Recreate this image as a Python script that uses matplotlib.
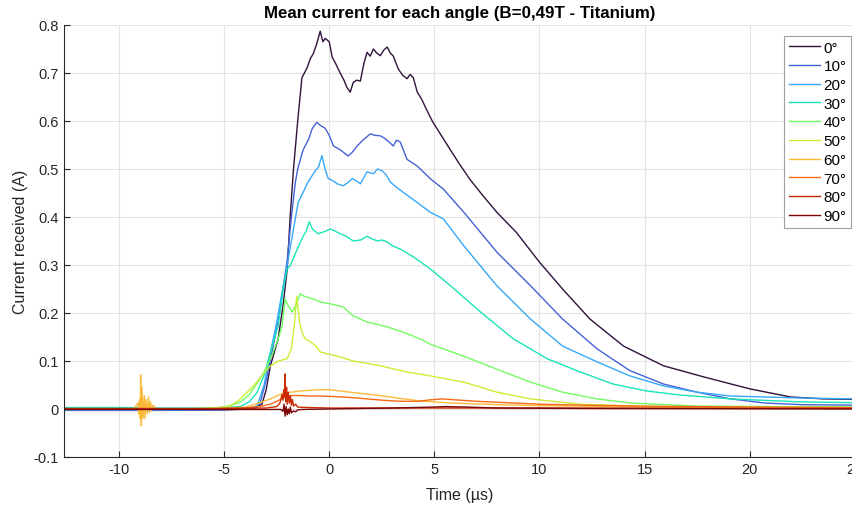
import matplotlib
matplotlib.use("Agg")
import matplotlib.pyplot as plt
import numpy as np

plt.rcParams['font.family'] = ['Liberation Sans', 'DejaVu Sans']

angles = ["0°", "10°", "20°", "30°", "40°", "50°", "60°", "70°", "80°", "90°"]

t0 = [-12.6, -10, -8, -6, -4.5, -3.6, -3.2, -3.0, -2.8, -2.43, -2.2, -2.0, -1.86, -1.7, -1.5, -1.3, -1.06,
      -0.9, -0.76, -0.6, -0.43, -0.3, -0.19, 0.0, 0.14, 0.3, 0.52, 0.7, 0.84, 1.0, 1.14, 1.3, 1.48, 1.65,
      1.8, 1.95, 2.1, 2.25, 2.43, 2.6, 2.76, 2.9, 3.05, 3.29, 3.5, 3.7, 3.85, 4.0, 4.19, 4.4, 4.67, 4.9,
      5.14, 5.4, 5.76, 6.2, 6.7, 7.3, 7.97, 8.9, 10.0, 11.1, 12.4, 14.0, 15.9, 17.8, 20.0, 21.95, 23.5, 25]
v0 = [-0.002, -0.002, -0.002, -0.002, -0.001, 0.0, 0.01, 0.04, 0.09, 0.146, 0.215, 0.29, 0.40, 0.50, 0.60,
      0.69, 0.71, 0.73, 0.74, 0.76, 0.787, 0.765, 0.772, 0.765, 0.733, 0.72, 0.70, 0.685, 0.67, 0.66,
      0.68, 0.685, 0.683, 0.72, 0.743, 0.735, 0.75, 0.742, 0.736, 0.748, 0.754, 0.742, 0.735, 0.708,
      0.695, 0.688, 0.697, 0.69, 0.66, 0.645, 0.62, 0.60, 0.583, 0.565, 0.54, 0.51, 0.478, 0.445, 0.41,
      0.368, 0.306, 0.25, 0.1875, 0.131, 0.09, 0.067, 0.042, 0.025, 0.021, 0.02]

t1 = [-12.6, -8, -5, -4, -3.6, -3.3, -3.0, -2.67, -2.4, -2.2, -2.0, -1.8, -1.62, -1.5, -1.24, -1.0, -0.8,
      -0.59, -0.4, -0.2, 0.0, 0.2, 0.52, 0.9, 1.1, 1.33, 1.6, 1.95, 2.2, 2.43, 2.6, 2.8, 3.05, 3.2, 3.38,
      3.7, 4.19, 4.8, 5.43, 6.4, 7.97, 9.57, 11.1, 12.75, 14.3, 15.9, 17.5, 19.1, 20.7, 22.5, 25]
v1 = [-0.003, -0.003, -0.002, 0.0, 0.002, 0.01, 0.06, 0.13, 0.19, 0.25, 0.31, 0.40, 0.47, 0.50, 0.54,
      0.56, 0.585, 0.597, 0.59, 0.585, 0.57, 0.548, 0.54, 0.527, 0.535, 0.548, 0.56, 0.573, 0.57, 0.569,
      0.565, 0.558, 0.548, 0.56, 0.556, 0.52, 0.506, 0.48, 0.458, 0.41, 0.327, 0.257, 0.1875, 0.125,
      0.08, 0.052, 0.035, 0.021, 0.0125, 0.009, 0.008]

t2 = [-12.6, -8, -5, -4.2, -3.7, -3.43, -3.1, -2.8, -2.5, -2.19, -2.0, -1.8, -1.6, -1.48, -1.2, -1.05,
      -0.9, -0.76, -0.5, -0.35, -0.2, -0.05, 0.2, 0.38, 0.67, 0.9, 1.1, 1.3, 1.48, 1.8, 2.1, 2.3, 2.52,
      2.7, 2.9, 3.2, 3.5, 4.19, 4.8, 5.43, 6.4, 7.97, 9.57, 11.1, 12.75, 14.3, 15.9, 17.5, 19.1, 22.3, 25]
v2 = [-0.002, -0.002, -0.001, 0.001, 0.003, 0.006, 0.05, 0.118, 0.18, 0.257, 0.30, 0.35, 0.40, 0.43,
      0.455, 0.47, 0.48, 0.49, 0.505, 0.528, 0.50, 0.48, 0.475, 0.469, 0.465, 0.472, 0.48, 0.475, 0.469,
      0.494, 0.49, 0.5, 0.496, 0.488, 0.473, 0.462, 0.452, 0.43, 0.41, 0.396, 0.34, 0.257, 0.1875, 0.131,
      0.098, 0.069, 0.048, 0.035, 0.027, 0.023, 0.021]

t3 = [-12.6, -10, -8, -6, -5, -4.24, -3.8, -3.43, -3.1, -2.8, -2.43, -2.19, -2.0, -1.86, -1.7, -1.52,
      -1.24, -1.1, -0.95, -0.8, -0.52, -0.2, 0.05, 0.3, 0.52, 0.8, 1.14, 1.5, 1.8, 2.0, 2.29, 2.5, 2.76,
      3.0, 3.38, 4.0, 4.8, 5.76, 7.2, 8.76, 10.4, 11.95, 13.5, 15.1, 16.7, 19.1, 22.3, 25]
v3 = [0.003, 0.003, 0.002, 0.002, 0.003, 0.005, 0.015, 0.035, 0.07, 0.118, 0.173, 0.25, 0.292, 0.298,
      0.315, 0.333, 0.36, 0.37, 0.39, 0.375, 0.365, 0.37, 0.375, 0.37, 0.365, 0.36, 0.35, 0.352, 0.36,
      0.355, 0.35, 0.352, 0.348, 0.34, 0.333, 0.317, 0.292, 0.257, 0.202, 0.146, 0.104, 0.077, 0.052,
      0.0375, 0.029, 0.021, 0.015, 0.013]

t4 = [-12.6, -8, -6, -5.2, -4.8, -4.24, -3.8, -3.29, -3.0, -2.67, -2.4, -2.24, -2.1, -1.95, -1.76, -1.6,
      -1.38, -1.2, -1.05, -0.7, -0.43, 0.05, 0.67, 1.14, 1.81, 2.3, 2.76, 3.52, 4.33, 4.8, 6.4, 7.97, 9.57,
      11.1, 12.75, 14.3, 17.5, 25]
v4 = [0.0, 0.0, 0.001, 0.003, 0.006, 0.014, 0.03, 0.0625, 0.085, 0.118, 0.15, 0.173, 0.229, 0.215,
      0.202, 0.215, 0.24, 0.235, 0.233, 0.228, 0.223, 0.219, 0.2125, 0.194, 0.181, 0.176, 0.171, 0.16,
      0.146, 0.135, 0.11, 0.083, 0.056, 0.035, 0.021, 0.0125, 0.006, 0.004]

t5 = [-12.6, -8, -6, -5.5, -5.0, -4.71, -4.3, -3.9, -3.6, -3.2, -2.8, -2.4, -2.0, -1.8, -1.65, -1.55,
      -1.45, -1.38, -1.25, -1.14, -0.9, -0.6, -0.43, 0.0, 0.38, 1.14, 2.43, 3.7, 4.8, 6.4, 7.97, 9.57,
      11.95, 15.9, 25]
v5 = [0.0, 0.0, 0.001, 0.002, 0.004, 0.006, 0.018, 0.035, 0.048, 0.07, 0.09, 0.1, 0.105, 0.125, 0.18,
      0.235, 0.195, 0.173, 0.155, 0.146, 0.14, 0.13, 0.119, 0.114, 0.11, 0.1, 0.09, 0.077, 0.069, 0.056,
      0.035, 0.021, 0.01, 0.004, 0.003]

t6 = [-12.6, -9.3, -9.1, -9.07, -9.03, -8.99, -8.97, -8.94, -8.91, -8.86, -8.8, -8.76, -8.72, -8.66, -8.6,
      -8.55, -8.5, -8.46, -8.4, -8.3, -8.2, -7.0, -5.0, -4.0, -3.5, -2.8, -2.19, -1.38, -0.57, 0.05, 1.0,
      1.8, 2.57, 3.38, 4.5, 6, 8, 10, 12, 15, 20, 25]
v6 = [0.0, 0.0, 0.012, -0.01, 0.02, -0.02, 0.071, -0.035, 0.045, -0.02, 0.028, -0.02, 0.02, -0.01,
      0.025, -0.008, 0.015, -0.004, 0.008, 0.004, 0.0, 0.0, 0.001, 0.004, 0.01, 0.021, 0.033, 0.0375,
      0.04, 0.04, 0.035, 0.031, 0.027, 0.022, 0.016, 0.012, 0.009, 0.007, 0.006, 0.004, 0.003, 0.002]

t7 = [-12.6, -6, -4.0, -3.2, -2.8, -2.4, -2.19, -1.8, -1.38, -1.0, -0.5, 0.2, 1.0, 1.8, 2.6, 3.38, 4.2,
      4.8, 5.4, 6.0, 7.0, 8.5, 10, 12, 15, 20, 25]
v7 = [0.0, 0.0, 0.002, 0.006, 0.01, 0.018, 0.024, 0.028, 0.028, 0.027, 0.027, 0.026, 0.024, 0.021, 0.018,
      0.016, 0.016, 0.019, 0.021, 0.019, 0.016, 0.013, 0.01, 0.008, 0.006, 0.004, 0.003]

t8 = [-12.6, -6, -3, -2.5, -2.35, -2.3, -2.25, -2.2, -2.16, -2.13, -2.1, -2.07, -2.03, -2.0, -1.95, -1.9,
      -1.85, -1.8, -1.75, -1.7, -1.6, -1.5, -1.0, 0, 5, 10, 25]
v8 = [0.001, 0.001, 0.002, 0.005, 0.012, 0.02, 0.03, 0.018, 0.04, 0.025, 0.073, 0.015, 0.045, 0.01,
      0.035, 0.012, 0.028, 0.008, 0.02, 0.006, 0.01, 0.004, 0.003, 0.002, 0.002, 0.002, 0.001]

t9 = [-12.6, -5, -2.3, -2.2, -2.15, -2.1, -2.05, -2.0, -1.95, -1.9, -1.85, -1.8, -1.7, -1.6, -1.5, -1.3,
      0, 3, 5, 5.5, 6.5, 8, 12, 25]
v9 = [-0.001, -0.001, -0.001, -0.005, 0.01, -0.015, 0.005, -0.012, 0.0, -0.01, 0.004, -0.008, -0.004,
      -0.006, -0.002, -0.001, 0.0, 0.002, 0.004, 0.005, 0.004, 0.002, 0.001, 0.0]

times = [t0, t1, t2, t3, t4, t5, t6, t7, t8, t9]
values = [v0, v1, v2, v3, v4, v5, v6, v7, v8, v9]

xticks = [-10, -5, 0, 5, 10, 15, 20, 25]
yticks = [-0.1, 0, 0.1, 0.2, 0.3, 0.4, 0.5, 0.6, 0.7, 0.8]
ytick_labels = ["-0.1", "0", "0.1", "0.2", "0.3", "0.4", "0.5", "0.6", "0.7", "0.8"]

fig = plt.figure(figsize=(8.53, 5.06), dpi=100)
ax = fig.add_axes([0.075, 0.0949, 0.927, 0.8538])

colors = plt.get_cmap('turbo')(np.linspace(0, 1, len(angles)))
for t, v, lab, c in zip(times, values, angles, colors):
    ax.plot(t, v, color=c, lw=1.0, label=lab)

ax.set_xlim(-12.62, 25)
ax.set_ylim(-0.1, 0.8)
ax.set_xticks(xticks)
ax.set_xticklabels([str(x) for x in xticks])
ax.set_yticks(yticks)
ax.set_yticklabels(ytick_labels)
ax.grid(True, color='#e3e3e3', lw=0.8)
ax.set_axisbelow(True)
for s in ['top', 'right']:
    ax.spines[s].set_visible(False)
for s in ['left', 'bottom']:
    ax.spines[s].set_color('#262626')
    ax.spines[s].set_linewidth(0.8)
ax.tick_params(direction='in', length=4, labelsize=10.5, colors='#262626', width=0.8)
ax.set_xlabel("Time (µs)", fontsize=11.5, color='#262626', labelpad=8)
ax.set_ylabel("Current received (A)", fontsize=11.5, color='#262626')
ax.set_title("Mean current for each angle (B=0,49T - Titanium)", fontsize=12.2, fontweight='bold', pad=6)

leg = ax.legend(loc='upper right', bbox_to_anchor=(0.9977, 0.927), bbox_transform=fig.transFigure,
                fontsize=11, handlelength=2.0, handletextpad=0.25, labelspacing=0.31,
                borderpad=0.3, borderaxespad=0, fancybox=False, framealpha=1, edgecolor='#a0a0a0')
leg.get_frame().set_linewidth(0.8)

fig.savefig("out.png", dpi=100)
